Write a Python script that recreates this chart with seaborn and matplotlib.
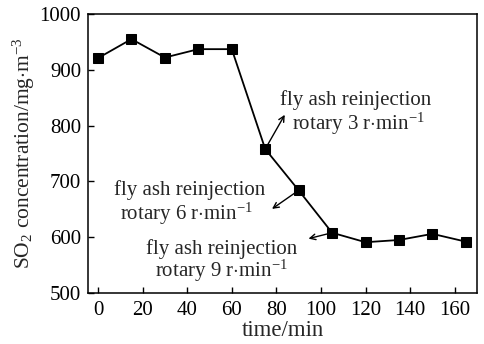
import matplotlib
matplotlib.use("Agg")
import matplotlib.pyplot as plt
import seaborn as sns
import pandas as pd

time_min = [0, 15, 30, 45, 60, 75, 90, 105, 120, 135, 150, 165]
so2 = [921, 955, 922, 937, 937, 758, 684, 608, 591, 595, 606, 592]
x_ticks = [0, 20, 40, 60, 80, 100, 120, 140, 160]
y_ticks = [500, 600, 700, 800, 900, 1000]

sns.set_style("ticks")
plt.rcParams["font.family"] = ["Liberation Serif", "DejaVu Serif"]
plt.rcParams["mathtext.fontset"] = "custom"
plt.rcParams["mathtext.rm"] = "Liberation Serif"
plt.rcParams["mathtext.it"] = "Liberation Serif:italic"

df = pd.DataFrame({"time": time_min, "so2": so2})

fig = plt.figure(figsize=(4.85, 3.44), dpi=100)
ax = fig.add_axes([88/485, 1 - 293/344, (477-88)/485, (293-14)/344])
sns.lineplot(data=df, x="time", y="so2", ax=ax, color="black", lw=1.3,
             marker="s", markersize=7, markeredgecolor="black", markerfacecolor="black")

ax.set_xlim(-4.5, 170)
ax.set_ylim(500, 1000)
ax.set_xticks(x_ticks)
ax.set_yticks(y_ticks)
ax.tick_params(direction="in", labelsize=15, length=4, width=1, colors="black")
ax.tick_params(axis="x", pad=6)
ax.tick_params(axis="y", pad=5)
for s in ax.spines.values():
    s.set_linewidth(1.1)
    s.set_color("black")
ax.set_xlabel("time/min", fontsize=16.5, labelpad=0)
ax.set_ylabel(r"SO$_2$ concentration/mg$\cdot$m$^{-3}$", fontsize=15.5, labelpad=2)

fs = 15
arrow = dict(arrowstyle="->", color="black", lw=1.0, shrinkA=0, shrinkB=4)
ax.annotate("", xy=(85, 828), xytext=(75, 758), arrowprops=arrow)
ax.text(115.5, 846, "fly ash reinjection", fontsize=fs, ha="center", va="center")
ax.text(117, 803, r"rotary 3 r$\cdot$min$^{-1}$", fontsize=fs, ha="center", va="center")

ax.annotate("", xy=(76, 645), xytext=(90, 684), arrowprops=arrow)
ax.text(41, 684, "fly ash reinjection", fontsize=fs, ha="center", va="center")
ax.text(39.5, 641, r"rotary 6 r$\cdot$min$^{-1}$", fontsize=fs, ha="center", va="center")

ax.annotate("", xy=(92, 595), xytext=(105, 608), arrowprops=arrow)
ax.text(55.5, 578, "fly ash reinjection", fontsize=fs, ha="center", va="center")
ax.text(55.5, 539, r"rotary 9 r$\cdot$min$^{-1}$", fontsize=fs, ha="center", va="center")

fig.savefig("out.png", dpi=100)
